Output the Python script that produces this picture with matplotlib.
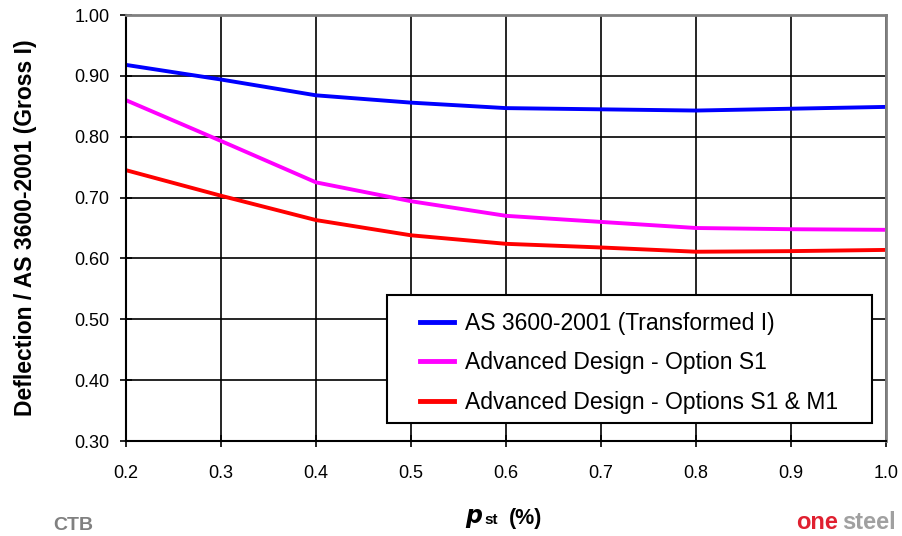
import matplotlib.pyplot as plt
from matplotlib.patches import Rectangle

plt.rcParams['font.family'] = ['Liberation Sans', 'DejaVu Sans']

p_st = [0.2, 0.3, 0.4, 0.5, 0.6, 0.7, 0.8, 0.9, 1.0]
transformed = [0.918, 0.894, 0.868, 0.856, 0.847, 0.845, 0.843, 0.846, 0.849]
option_s1 = [0.860, 0.793, 0.725, 0.694, 0.670, 0.660, 0.650, 0.648, 0.647]
option_s1_m1 = [0.745, 0.703, 0.663, 0.638, 0.624, 0.618, 0.611, 0.612, 0.614]

labels = ["AS 3600-2001 (Transformed I)",
          "Advanced Design - Option S1",
          "Advanced Design - Options S1 & M1"]
colors = ["#0000ff", "#ff00ff", "#ff0000"]

fig = plt.figure(figsize=(9.03, 5.36), dpi=100)
ax = fig.add_axes([126 / 903, 1 - 441 / 536, 760 / 903, 426 / 536])

for ys, lab, c in zip([transformed, option_s1, option_s1_m1], labels, colors):
    ax.plot(p_st, ys, color=c, lw=2.8, label=lab)

ax.set_xlim(0.2, 1.0)
ax.set_ylim(0.3, 1.0)
ax.set_xticks(p_st)
ax.set_xticklabels([f"{v:.1f}" for v in p_st], fontsize=13)
yt = [0.3, 0.4, 0.5, 0.6, 0.7, 0.8, 0.9, 1.0]
ax.set_yticks(yt)
ax.set_yticklabels([f"{v:.2f}" for v in yt], fontsize=13)
ax.grid(True, color='black', lw=1.2)
ax.tick_params(axis='x', direction='inout', length=8, width=1.2, pad=13)
ax.tick_params(axis='y', direction='inout', length=8, width=1.2, pad=8)
for s in ['left', 'bottom']:
    ax.spines[s].set_linewidth(1.5)
for s in ['top', 'right']:
    ax.spines[s].set_color('#808080')
    ax.spines[s].set_linewidth(2)

ax.set_ylabel("Deflection / AS 3600-2001 (Gross I)", fontsize=16.5,
              fontweight='bold')
ax.yaxis.set_label_coords((37 - 126) / 760, 0.5)

fig.text(483 / 903, 1 - 523 / 536, r"$\boldsymbol{p}$", fontsize=17,
         ha='right', va='baseline')
fig.text(484 / 903, 1 - 524 / 536, "st", fontsize=11, fontweight='bold',
         ha='left', va='baseline')
fig.text(509 / 903, 1 - 524 / 536, "(%)", fontsize=15.5, fontweight='bold',
         ha='left', va='baseline')

# legend box drawn separately so it can be wider than the entries
box = Rectangle(((387 - 126) / 760, (441 - 423) / 426), 485 / 760, 128 / 426,
                transform=ax.transAxes, facecolor='white', edgecolor='black',
                lw=1.5, zorder=4)
ax.add_patch(box)
leg = ax.legend(loc='center left', bbox_to_anchor=((420 - 126) / 760, (441 - 363) / 426),
                fontsize=16.5, frameon=False,
                handlelength=1.5, handletextpad=0.45, labelspacing=0.73,
                borderpad=0, borderaxespad=0)
leg.set_zorder(5)
for line in leg.get_lines():
    line.set_linewidth(3.5)

# logos at the bottom corners, drawn as text
fig.text(73 / 903, 1 - 534 / 536, "CTB", fontsize=14, fontweight='bold',
         color='#808080', ha='center', va='bottom')
fig.text(796 / 903, 1 - 534 / 536, "one", fontsize=17, fontweight='bold',
         color='#e02030', ha='left', va='bottom')
fig.text(842 / 903, 1 - 534 / 536, "steel", fontsize=17, fontweight='bold',
         color='#a0a0a0', ha='left', va='bottom')

fig.savefig("out.png", dpi=100)
